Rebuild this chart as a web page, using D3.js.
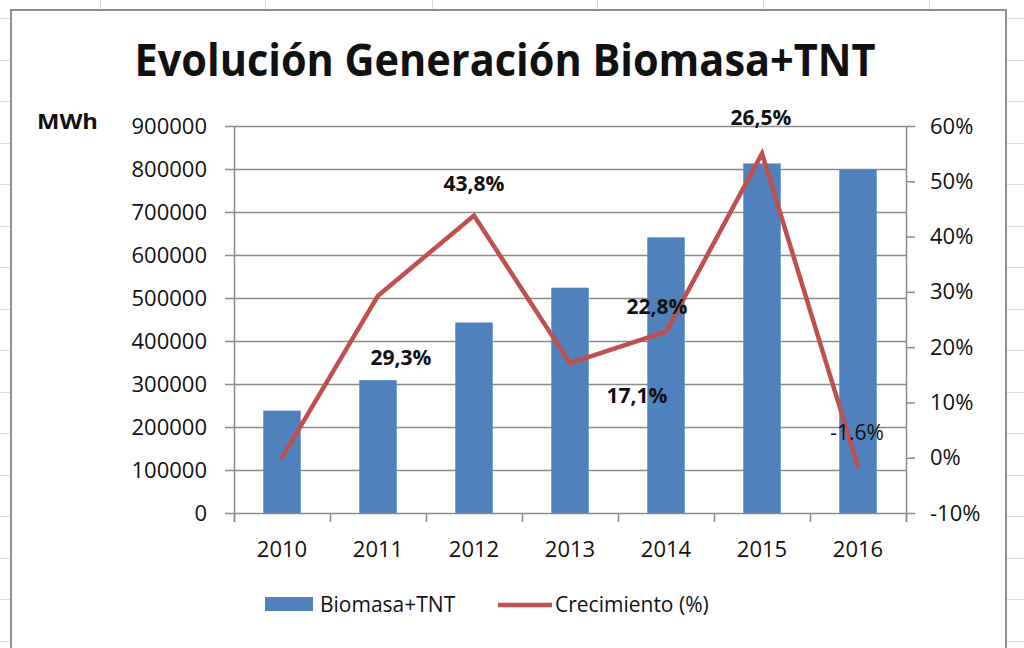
<!DOCTYPE html>
<html>
<head>
<meta charset="utf-8">
<script src="https://cdn.jsdelivr.net/npm/d3@7/dist/d3.min.js"></script>
<style>
  html, body { margin: 0; padding: 0; background: #fff; }
  svg { display: block; }
  text { font-family: "Open Sans", "Noto Sans", sans-serif; fill: #111; }
</style>
</head>
<body>
<svg id="chart" width="1024" height="648"></svg>
<script>
// ---- data ----
const years = ["2010", "2011", "2012", "2013", "2014", "2015", "2016"];
const generationMWh = [238000, 309000, 443000, 524000, 641000, 813000, 799000];
const growthPct = [0, 29.3, 43.8, 17.1, 22.8, 55.0, -1.6];
const growthLabels = ["", "29,3%", "43,8%", "17,1%", "22,8%", "26,5%", "-1.6%"];
const leftTicks = [0, 100000, 200000, 300000, 400000, 500000, 600000, 700000, 800000, 900000];
const rightTicks = [-10, 0, 10, 20, 30, 40, 50, 60];
const seriesNames = ["Biomasa+TNT", "Crecimiento (%)"];
const titleText = "Evolución Generación Biomasa+TNT";
const unitText = "MWh";

// label offsets (px) from each line point, as placed in the original
const labelDx = [0, 23, 0, 67, -9, -1, -1];
const labelDy = [0, 61, -33, 32, -26, -37, -35];
const labelWeight = ["bold", "bold", "bold", "bold", "bold", "bold", "normal"];

const barColor = "#4F81BD";
const lineColor = "#C0504D";
const gridColor = "#8c8c8c";

const svg = d3.select("#chart");

// ---- spreadsheet background ----
const bg = svg.append("g");
const colLines = [100, 265, 432, 597, 763, 929];
colLines.forEach(x => bg.append("line").attr("x1", x + 0.5).attr("x2", x + 0.5).attr("y1", 0).attr("y2", 11)
  .attr("stroke", "#dadada").attr("stroke-width", 1));
d3.range(18, 648, 41.5).forEach(y => {
  bg.append("line").attr("x1", 0).attr("x2", 11).attr("y1", Math.round(y) + 0.5).attr("y2", Math.round(y) + 0.5)
    .attr("stroke", "#dadada");
  bg.append("line").attr("x1", 1006).attr("x2", 1024).attr("y1", Math.round(y) + 0.5).attr("y2", Math.round(y) + 0.5)
    .attr("stroke", "#dadada");
});
svg.append("rect").attr("x", 11).attr("y", 10).attr("width", 995).attr("height", 660)
  .attr("fill", "#fff").attr("stroke", "#8f8f8f").attr("stroke-width", 2);

// ---- scales ----
const plot = { left: 234, right: 906, top: 126, bottom: 513 };
const x = d3.scaleBand().domain(years).range([plot.left, plot.right])
  .paddingInner(0.61).paddingOuter(0.305);
const xStep = x.step();
const xc = d => x(d) + x.bandwidth() / 2;
const yL = d3.scaleLinear().domain([0, 900000]).range([plot.bottom, plot.top]);
const yR = d3.scaleLinear().domain([-10, 60]).range([plot.bottom, plot.top]);

// ---- gridlines ----
svg.append("g").selectAll("line").data(leftTicks.slice(1)).join("line")
  .attr("x1", plot.left).attr("x2", plot.right)
  .attr("y1", d => Math.round(yL(d)) + 0.5).attr("y2", d => Math.round(yL(d)) + 0.5)
  .attr("stroke", gridColor).attr("stroke-width", 1.5);

// ---- bars ----
svg.append("g").selectAll("rect").data(years).join("rect")
  .attr("x", d => x(d))
  .attr("width", x.bandwidth())
  .attr("y", (d, i) => yL(generationMWh[i]))
  .attr("height", (d, i) => yL(0) - yL(generationMWh[i]))
  .attr("fill", barColor);

// ---- axes ----
const leftAxis = svg.append("g").attr("transform", `translate(${plot.left},0)`)
  .call(d3.axisLeft(yL).tickValues(leftTicks).tickFormat(d3.format("d")).tickSize(9).tickSizeOuter(0).tickPadding(18));
leftAxis.select(".domain").remove();
leftAxis.selectAll(".tick line").attr("stroke", gridColor).attr("stroke-width", 1.5);
leftAxis.selectAll(".tick text").attr("font-size", 22).attr("fill", "#1a1a1a")
  .style("font-family", "'Open Sans', sans-serif");

const rightAxis = svg.append("g").attr("transform", `translate(${plot.right},0)`)
  .call(d3.axisRight(yR).tickValues(rightTicks).tickFormat(d => d + "%").tickSize(9).tickSizeOuter(0).tickPadding(15));
rightAxis.select(".domain").remove();
rightAxis.selectAll(".tick line").attr("stroke", gridColor).attr("stroke-width", 1.5);
rightAxis.selectAll(".tick text").attr("font-size", 22).attr("fill", "#1a1a1a")
  .style("font-family", "'Open Sans', sans-serif");

// axis lines
svg.append("line").attr("x1", plot.left + 0.5).attr("x2", plot.left + 0.5)
  .attr("y1", plot.top).attr("y2", plot.bottom + 9).attr("stroke", gridColor).attr("stroke-width", 1.5);
svg.append("line").attr("x1", plot.right + 0.5).attr("x2", plot.right + 0.5)
  .attr("y1", plot.top).attr("y2", plot.bottom + 9).attr("stroke", gridColor).attr("stroke-width", 1.5);
svg.append("line").attr("x1", plot.left).attr("x2", plot.right)
  .attr("y1", Math.round(yL(0)) + 0.5).attr("y2", Math.round(yL(0)) + 0.5)
  .attr("stroke", gridColor).attr("stroke-width", 1.5);

// category boundary ticks
svg.append("g").selectAll("line").data(d3.range(years.length + 1)).join("line")
  .attr("x1", i => plot.left + i * xStep + 0.5).attr("x2", i => plot.left + i * xStep + 0.5)
  .attr("y1", plot.bottom).attr("y2", plot.bottom + 9)
  .attr("stroke", gridColor).attr("stroke-width", 1.5);

// category labels
const bottomAxis = svg.append("g").attr("transform", `translate(0,${plot.bottom})`)
  .call(d3.axisBottom(x).tickSize(0).tickPadding(28));
bottomAxis.select(".domain").remove();
bottomAxis.selectAll(".tick text").attr("font-size", 22).attr("fill", "#1a1a1a")
  .style("font-family", "'Open Sans', sans-serif");

// ---- growth line ----
const line = d3.line().x((d, i) => xc(years[i])).y(d => yR(d));
svg.append("path").datum(growthPct)
  .attr("d", line)
  .attr("fill", "none")
  .attr("stroke", lineColor)
  .attr("stroke-width", 4.5)
  .attr("stroke-linejoin", "miter")
  .attr("stroke-linecap", "round");

// ---- data labels ----
svg.append("g").selectAll("text").data(growthLabels).join("text")
  .attr("x", (d, i) => xc(years[i]) + labelDx[i])
  .attr("y", (d, i) => yR(growthPct[i]) + labelDy[i])
  .attr("text-anchor", "middle")
  .attr("dominant-baseline", "central")
  .attr("font-size", 21)
  .attr("font-weight", (d, i) => labelWeight[i])
  .text(d => d);

// ---- title & unit ----
svg.append("text").attr("x", 505).attr("y", 76).attr("text-anchor", "middle")
  .attr("font-size", 45).attr("font-weight", "bold")
  .attr("textLength", 741).attr("lengthAdjust", "spacingAndGlyphs")
  .text(titleText);
svg.append("text").attr("x", 37).attr("y", 129)
  .attr("font-size", 22).attr("font-weight", "bold")
  .attr("textLength", 61).attr("lengthAdjust", "spacingAndGlyphs")
  .text(unitText);

// ---- legend ----
const lg = svg.append("g");
lg.append("rect").attr("x", 265).attr("y", 597).attr("width", 48).attr("height", 14).attr("fill", barColor);
lg.append("text").attr("x", 320).attr("y", 604).attr("dominant-baseline", "central")
  .attr("font-size", 21).text(seriesNames[0]);
lg.append("line").attr("x1", 498).attr("x2", 552).attr("y1", 605).attr("y2", 605)
  .attr("stroke", lineColor).attr("stroke-width", 4.5);
lg.append("text").attr("x", 555).attr("y", 604).attr("dominant-baseline", "central")
  .attr("font-size", 21).text(seriesNames[1]);
</script>
</body>
</html>
